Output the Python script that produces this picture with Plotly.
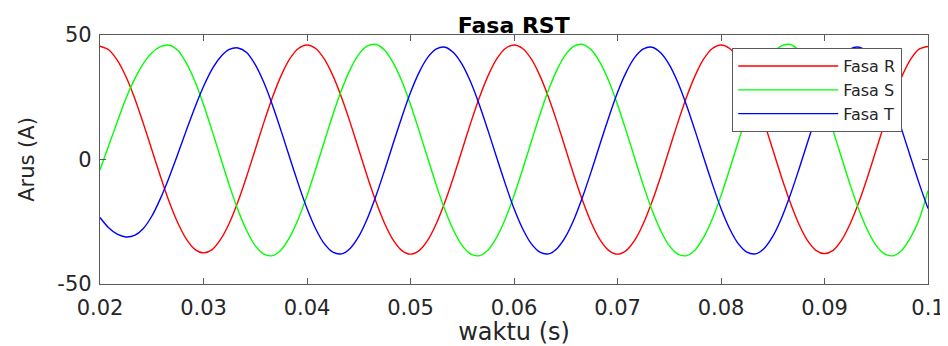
import plotly.graph_objects as go

# time samples (s), 24 per 50 Hz cycle, 0.02 s .. 0.1 s
waktu = [0.02 + k / 1200 for k in range(97)]

fasa_r = [45.5, 44.1, 39.9, 33.3, 24.8, 14.7, 4.0, -6.7, -16.8, -25.3, -31.9, -36.1,
          -37.5, -36.2, -32.0, -25.5, -16.9, -6.8, 4.0, 14.9, 25.0, 33.7, 40.4, 44.6,
          46.0, 44.6, 40.4, 33.7, 25.0, 14.9, 4.0, -6.9, -17.0, -25.7, -32.4, -36.6,
          -38.0, -36.6, -32.4, -25.7, -17.0, -6.9, 4.0, 14.9, 25.0, 33.7, 40.4, 44.6,
          46.0, 44.6, 40.4, 33.7, 25.0, 14.9, 4.0, -6.9, -17.0, -25.7, -32.4, -36.6,
          -38.0, -36.6, -32.4, -25.7, -17.0, -6.9, 4.0, 14.9, 25.0, 33.7, 40.4, 44.6,
          46.0, 44.6, 40.4, 33.7, 25.0, 14.9, 4.0, -6.9, -17.0, -25.7, -32.4, -36.5,
          -37.8, -36.5, -32.3, -25.6, -17.0, -6.9, 4.0, 14.9, 25.0, 33.6, 40.3, 44.4,
          45.4]

fasa_s = [-4.1, 5.5, 15.1, 24.5, 32.2, 38.4, 42.8, 45.3, 45.9, 43.9, 38.8, 31.4,
          22.1, 11.5, 0.5, -10.4, -20.3, -28.5, -34.6, -38.0, -38.6, -36.3, -31.2, -23.8,
          -14.5, -3.9, 7.1, 18.0, 27.9, 36.1, 42.2, 45.6, 46.2, 43.9, 38.8, 31.4,
          22.1, 11.5, 0.5, -10.4, -20.3, -28.5, -34.6, -38.0, -38.6, -36.3, -31.2, -23.8,
          -14.5, -3.9, 7.1, 18.0, 27.9, 36.1, 42.2, 45.6, 46.2, 43.9, 38.8, 31.4,
          22.1, 11.5, 0.5, -10.4, -20.3, -28.5, -34.6, -38.0, -38.6, -36.3, -31.2, -23.8,
          -14.5, -3.9, 7.1, 18.0, 27.9, 36.1, 42.2, 45.6, 46.2, 43.9, 38.8, 31.4,
          22.1, 11.5, 0.5, -10.4, -20.3, -28.5, -34.6, -38.0, -38.6, -36.3, -31.2, -23.8,
          -12.5]

fasa_t = [-23.3, -27.4, -30.0, -31.1, -30.5, -27.8, -22.8, -15.7, -7.3, 2.0, 11.6, 20.9,
          29.3, 36.3, 41.3, 44.2, 44.8, 43.0, 38.1, 30.9, 21.8, 11.5, 0.7, -9.9,
          -19.7, -27.8, -33.8, -37.2, -37.9, -35.7, -30.9, -23.7, -14.6, -4.3, 6.5, 17.1,
          26.9, 35.0, 41.0, 44.4, 45.1, 42.9, 38.1, 30.9, 21.8, 11.5, 0.7, -9.9,
          -19.7, -27.8, -33.8, -37.2, -37.9, -35.7, -30.9, -23.7, -14.6, -4.3, 6.5, 17.1,
          26.9, 35.0, 41.0, 44.4, 45.1, 42.9, 38.1, 30.9, 21.8, 11.5, 0.7, -9.9,
          -19.7, -27.8, -33.8, -37.2, -37.9, -35.7, -30.9, -23.7, -14.6, -4.3, 6.5, 17.1,
          26.9, 35.0, 41.0, 44.4, 45.1, 42.9, 38.1, 30.9, 21.8, 11.5, 0.7, -9.9,
          -19.7]

x_ticks = [0.02, 0.03, 0.04, 0.05, 0.06, 0.07, 0.08, 0.09, 0.1]
x_tick_labels = ["0.02", "0.03", "0.04", "0.05", "0.06", "0.07", "0.08", "0.09", "0.1"]
y_ticks = [-50, 0, 50]
y_tick_labels = ["-50", "0", "50"]

series = [("Fasa R", fasa_r, "#ff0000"), ("Fasa S", fasa_s, "#00ff00"), ("Fasa T", fasa_t, "#0000ff")]

fig = go.Figure()
for name, vals, col in series:
    fig.add_trace(go.Scatter(x=waktu, y=vals, mode="lines", name=name,
                             line=dict(color=col, width=1.4, shape="spline", smoothing=0.8)))

FONT = "DejaVu Sans"
axis_common = dict(showline=True, linecolor="#5a5a5a", linewidth=1.3, mirror="ticks",
                   ticks="inside", ticklen=6, tickcolor="#5a5a5a", tickwidth=1.2,
                   showgrid=False, zeroline=False, automargin=False,
                   tickfont=dict(family=FONT, size=21, color="#262626"))

fig.update_layout(
    width=940, height=338,
    margin=dict(l=92, r=20, t=27, b=62),
    paper_bgcolor="white", plot_bgcolor="white",
    title=dict(text="<b>Fasa RST</b>", x=0.538, xanchor="center", y=0.95, yanchor="middle",
               font=dict(family=FONT, size=22, color="black")),
    xaxis=dict(range=[0.02, 0.1], tickvals=x_ticks, ticktext=x_tick_labels, ticklabelstandoff=5,
               title=dict(text="waktu (s)", font=dict(family=FONT, size=24, color="#262626"), standoff=12),
               **axis_common),
    yaxis=dict(range=[-50, 50], tickvals=y_ticks, ticktext=y_tick_labels, ticklabelstandoff=3,
               title=dict(text="Arus (A)", font=dict(family=FONT, size=21, color="#262626"), standoff=16),
               **axis_common),
    legend=dict(x=0.9686, xanchor="right", y=0.948, yanchor="top",
                bgcolor="white", bordercolor="#5a5a5a", borderwidth=1.2,
                font=dict(family=FONT, size=16, color="#262626"),
                itemwidth=100, tracegroupgap=0),
    showlegend=True,
)

fig.write_html("out.html")
